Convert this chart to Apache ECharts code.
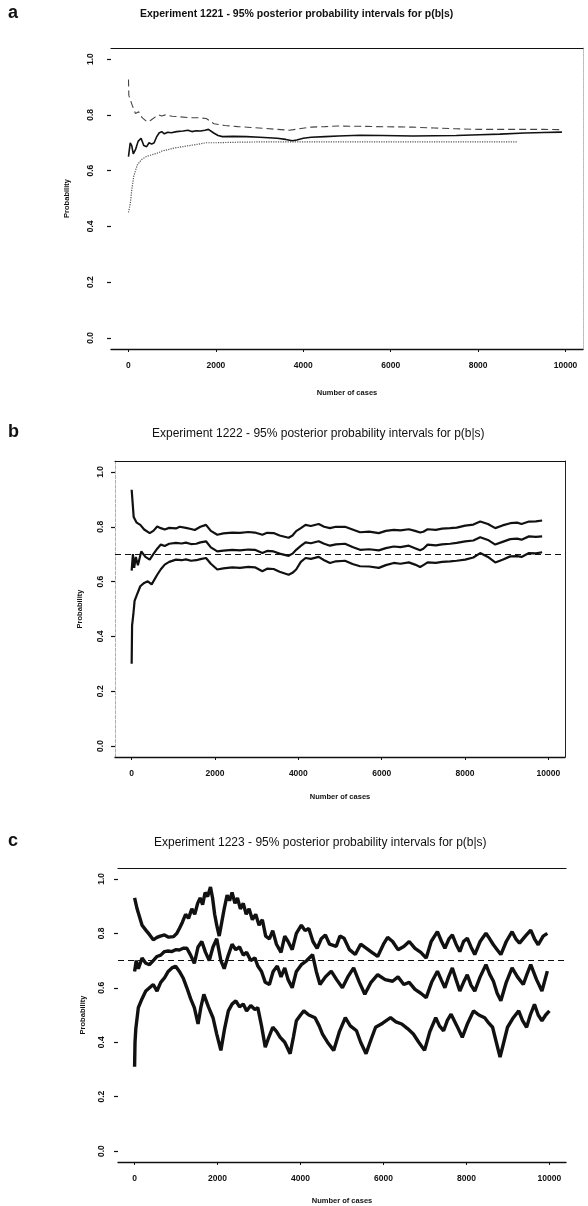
<!DOCTYPE html>
<html>
<head>
<meta charset="utf-8">
<script src="https://cdn.jsdelivr.net/npm/echarts@6/dist/echarts.min.js"></script>
<style>
  html, body { margin: 0; padding: 0; background: #fff; }
  #chart { width: 588px; height: 1206px; }
</style>
</head>
<body>
<div id="chart"></div>
<script>
// tick labels
const xTicks = [0, 2000, 4000, 6000, 8000, 10000];
const yTicks = [0, 0.2, 0.4, 0.6, 0.8, 1.0];
const refLevel = 0.7;

const panelLetters = ['a', 'b', 'c'];
const titles = [
  'Experiment 1221 - 95% posterior probability intervals for p(b|s)',
  'Experiment 1222 - 95% posterior probability intervals for p(b|s)',
  'Experiment 1223 - 95% posterior probability intervals for p(b|s)'
];

// panel a : [cases, probability]
const upperA = [[0,0.927],[8,0.87],[84,0.835],[160,0.805],[235,0.811],[312,0.79],[427,0.775],[502,0.78],[616,0.793],[692,0.8],[760,0.796],[845,0.8],[1000,0.795],[1187,0.793],[1400,0.79],[1600,0.79],[1780,0.787],[1957,0.768],[2200,0.762],[2500,0.758],[2800,0.755],[3070,0.752],[3400,0.748],[3680,0.745],[3900,0.75],[4180,0.756],[4500,0.758],[4800,0.76],[5300,0.759],[5660,0.758],[6100,0.757],[6495,0.756],[7000,0.753],[7500,0.75],[8000,0.748],[8500,0.748],[9000,0.748],[9500,0.748],[9918,0.747]];
const meanA = [[0,0.65],[40,0.7],[74,0.69],[110,0.66],[160,0.675],[220,0.705],[288,0.716],[350,0.69],[416,0.686],[470,0.7],[530,0.695],[587,0.7],[640,0.72],[700,0.735],[760,0.74],[820,0.732],[900,0.738],[980,0.736],[1100,0.74],[1250,0.742],[1360,0.745],[1450,0.74],[1550,0.743],[1650,0.742],[1750,0.745],[1830,0.748],[1950,0.735],[2050,0.726],[2150,0.722],[2400,0.723],[2700,0.722],[3000,0.72],[3200,0.718],[3400,0.716],[3600,0.712],[3750,0.707],[3850,0.71],[4000,0.716],[4180,0.72],[4500,0.722],[4800,0.724],[5300,0.727],[5800,0.726],[6500,0.724],[7000,0.725],[7500,0.726],[8036,0.729],[8500,0.731],[9064,0.735],[9500,0.737],[9918,0.738]];
const lowerA = [[0,0.45],[40,0.48],[74,0.53],[120,0.58],[200,0.62],[300,0.64],[400,0.65],[500,0.655],[600,0.66],[700,0.665],[760,0.67],[900,0.675],[1010,0.68],[1200,0.685],[1400,0.69],[1600,0.695],[1780,0.7],[2000,0.7],[2500,0.702],[3000,0.703],[4000,0.703],[5000,0.703],[6000,0.703],[7000,0.703],[8000,0.703],[8900,0.703]];

// panel b
const upperB = [[0,0.935],[48,0.836],[120,0.815],[207,0.807],[300,0.79],[433,0.777],[520,0.785],[613,0.801],[700,0.795],[793,0.79],[900,0.796],[1063,0.794],[1154,0.8],[1300,0.796],[1423,0.792],[1514,0.788],[1650,0.8],[1784,0.807],[1900,0.785],[2055,0.771],[2200,0.776],[2416,0.779],[2600,0.778],[2800,0.781],[2957,0.779],[3137,0.771],[3250,0.778],[3407,0.777],[3550,0.768],[3767,0.76],[3860,0.768],[3948,0.784],[4060,0.795],[4173,0.807],[4300,0.803],[4488,0.81],[4620,0.8],[4760,0.795],[4900,0.8],[5120,0.8],[5300,0.79],[5481,0.78],[5700,0.782],[5931,0.777],[6100,0.785],[6291,0.789],[6450,0.787],[6652,0.791],[6800,0.785],[6923,0.779],[7000,0.782],[7103,0.791],[7300,0.789],[7450,0.793],[7644,0.795],[7800,0.797],[8005,0.804],[8200,0.808],[8365,0.819],[8550,0.81],[8726,0.795],[8900,0.805],[9086,0.813],[9250,0.815],[9356,0.81],[9536,0.819],[9700,0.82],[9851,0.823]];
const meanB = [[0,0.64],[30,0.7],[60,0.65],[100,0.69],[150,0.66],[230,0.71],[330,0.69],[433,0.68],[520,0.7],[613,0.72],[700,0.735],[793,0.73],[900,0.738],[1063,0.741],[1200,0.739],[1300,0.742],[1423,0.737],[1550,0.738],[1650,0.743],[1784,0.747],[1900,0.725],[2055,0.71],[2200,0.713],[2416,0.716],[2600,0.714],[2800,0.717],[2957,0.716],[3137,0.704],[3250,0.712],[3407,0.71],[3550,0.702],[3767,0.694],[3860,0.702],[3948,0.716],[4060,0.73],[4173,0.743],[4300,0.74],[4488,0.747],[4620,0.738],[4760,0.731],[4900,0.736],[5120,0.738],[5300,0.726],[5481,0.716],[5700,0.718],[5931,0.714],[6100,0.722],[6291,0.728],[6450,0.726],[6652,0.731],[6800,0.722],[6923,0.714],[7000,0.72],[7103,0.735],[7300,0.732],[7450,0.736],[7644,0.738],[7800,0.741],[8005,0.747],[8200,0.75],[8365,0.762],[8550,0.752],[8726,0.735],[8900,0.745],[9086,0.755],[9250,0.757],[9356,0.753],[9536,0.765],[9700,0.763],[9851,0.765]];
const lowerB = [[0,0.3],[10,0.44],[40,0.48],[70,0.53],[120,0.55],[207,0.583],[300,0.595],[387,0.601],[480,0.59],[613,0.625],[700,0.645],[793,0.662],[900,0.672],[1063,0.68],[1200,0.678],[1300,0.681],[1423,0.676],[1550,0.678],[1650,0.682],[1784,0.686],[1900,0.665],[2055,0.644],[2200,0.648],[2416,0.652],[2600,0.65],[2800,0.654],[2957,0.652],[3137,0.638],[3250,0.647],[3407,0.646],[3550,0.636],[3767,0.625],[3860,0.632],[3948,0.644],[4060,0.672],[4173,0.686],[4300,0.683],[4488,0.69],[4620,0.678],[4760,0.668],[4900,0.674],[5120,0.676],[5300,0.664],[5481,0.656],[5700,0.655],[5931,0.65],[6100,0.66],[6291,0.668],[6450,0.665],[6652,0.67],[6800,0.662],[6923,0.653],[7000,0.66],[7103,0.67],[7300,0.668],[7450,0.672],[7644,0.674],[7800,0.676],[8005,0.68],[8200,0.688],[8365,0.704],[8550,0.69],[8726,0.67],[8900,0.68],[9086,0.692],[9250,0.693],[9356,0.69],[9536,0.704],[9700,0.703],[9851,0.707]];

// panel c
const upperC = [[0,0.93],[60,0.89],[120,0.86],[180,0.83],[280,0.81],[360,0.795],[450,0.776],[540,0.785],[620,0.79],[720,0.794],[820,0.786],[940,0.788],[1020,0.8],[1080,0.818],[1150,0.84],[1230,0.87],[1300,0.855],[1380,0.89],[1450,0.87],[1520,0.91],[1580,0.93],[1640,0.905],[1700,0.95],[1760,0.935],[1830,0.97],[1880,0.93],[1930,0.87],[1980,0.83],[2040,0.79],[2100,0.84],[2160,0.89],[2230,0.94],[2290,0.92],[2350,0.95],[2420,0.91],[2480,0.93],[2550,0.89],[2620,0.91],[2690,0.87],[2760,0.89],[2840,0.85],[2920,0.87],[3000,0.83],[3080,0.85],[3160,0.79],[3250,0.78],[3330,0.81],[3420,0.76],[3530,0.73],[3620,0.79],[3700,0.77],[3800,0.74],[3900,0.8],[4020,0.83],[4110,0.81],[4200,0.818],[4300,0.77],[4400,0.745],[4500,0.78],[4600,0.794],[4700,0.76],[4860,0.752],[4950,0.79],[5050,0.782],[5180,0.74],[5320,0.722],[5450,0.76],[5590,0.745],[5720,0.73],[5860,0.715],[6000,0.76],[6100,0.785],[6220,0.77],[6350,0.74],[6490,0.752],[6620,0.77],[6760,0.745],[6900,0.73],[7030,0.709],[7150,0.77],[7300,0.806],[7400,0.77],[7480,0.745],[7580,0.78],[7660,0.794],[7750,0.76],[7840,0.733],[7930,0.77],[8020,0.782],[8110,0.75],[8200,0.722],[8330,0.77],[8470,0.8],[8560,0.78],[8650,0.758],[8740,0.74],[8830,0.722],[8960,0.77],[9100,0.806],[9190,0.78],[9280,0.764],[9420,0.79],[9550,0.812],[9640,0.78],[9730,0.758],[9850,0.79],[9950,0.8]];
const meanC = [[0,0.66],[40,0.7],[90,0.67],[180,0.709],[270,0.69],[360,0.685],[450,0.7],[540,0.715],[630,0.72],[720,0.733],[810,0.735],[900,0.733],[990,0.74],[1080,0.739],[1170,0.745],[1260,0.745],[1350,0.72],[1440,0.69],[1530,0.75],[1620,0.77],[1710,0.73],[1800,0.7],[1890,0.75],[1980,0.78],[2080,0.7],[2160,0.67],[2260,0.72],[2350,0.76],[2440,0.74],[2530,0.75],[2620,0.72],[2700,0.73],[2800,0.7],[2900,0.71],[2970,0.68],[3060,0.66],[3150,0.62],[3250,0.612],[3340,0.66],[3440,0.68],[3530,0.64],[3620,0.673],[3700,0.63],[3800,0.6],[3900,0.66],[4020,0.685],[4150,0.7],[4290,0.722],[4380,0.66],[4470,0.612],[4600,0.64],[4740,0.661],[4870,0.63],[5010,0.6],[5140,0.64],[5280,0.673],[5420,0.62],[5550,0.576],[5700,0.62],[5860,0.648],[6040,0.63],[6220,0.624],[6350,0.64],[6490,0.612],[6620,0.62],[6760,0.594],[6900,0.58],[7030,0.564],[7160,0.62],[7300,0.661],[7390,0.63],[7480,0.6],[7570,0.64],[7660,0.673],[7750,0.63],[7840,0.588],[7930,0.62],[8020,0.648],[8110,0.61],[8200,0.588],[8330,0.64],[8470,0.685],[8560,0.65],[8650,0.624],[8740,0.58],[8830,0.552],[8960,0.62],[9100,0.673],[9230,0.64],[9370,0.612],[9460,0.65],[9550,0.685],[9690,0.63],[9820,0.588],[9950,0.661]];
const lowerC = [[0,0.31],[10,0.4],[30,0.45],[90,0.527],[180,0.56],[270,0.588],[360,0.6],[450,0.612],[540,0.588],[630,0.62],[720,0.636],[810,0.66],[900,0.673],[990,0.679],[1080,0.66],[1170,0.636],[1260,0.6],[1350,0.56],[1440,0.527],[1530,0.467],[1600,0.53],[1670,0.576],[1780,0.53],[1890,0.49],[1980,0.43],[2080,0.37],[2170,0.45],[2260,0.515],[2350,0.54],[2440,0.552],[2530,0.53],[2620,0.54],[2700,0.515],[2800,0.535],[2900,0.52],[2970,0.527],[3060,0.46],[3150,0.382],[3240,0.42],[3330,0.455],[3420,0.44],[3510,0.418],[3620,0.4],[3750,0.358],[3830,0.42],[3900,0.479],[4000,0.5],[4080,0.515],[4200,0.5],[4350,0.49],[4450,0.46],[4530,0.43],[4650,0.4],[4800,0.37],[4940,0.44],[5080,0.49],[5200,0.46],[5350,0.442],[5450,0.4],[5580,0.358],[5700,0.41],[5810,0.455],[5980,0.47],[6170,0.49],[6300,0.475],[6440,0.467],[6580,0.45],[6720,0.43],[6850,0.4],[6990,0.37],[7120,0.44],[7260,0.49],[7350,0.46],[7450,0.442],[7540,0.48],[7630,0.503],[7770,0.46],[7900,0.418],[8030,0.47],[8170,0.515],[8300,0.5],[8440,0.49],[8540,0.47],[8630,0.455],[8720,0.4],[8810,0.345],[8900,0.4],[8990,0.455],[9130,0.49],[9260,0.515],[9350,0.48],[9450,0.455],[9540,0.5],[9640,0.539],[9730,0.5],[9820,0.479],[9910,0.5],[10000,0.515]];

const chart = echarts.init(document.getElementById('chart'));

const font = 'Liberation Sans';
const ink = '#111';

// plot boxes, in px
const grids = [
  { left: 111, top: 48, width: 472, height: 301 },
  { left: 115, top: 461, width: 450, height: 296 },
  { left: 118, top: 868, width: 448, height: 298 }
];
const yNameGap = [40, 31, 31];
const yLabelMargin = [16, 10, 12];
const xNameGap = [40, 36, 35];
const titleTop = [9, 428, 837];
const titleLeft = [140, 152, 154];
const titleSize = [10.5, 12, 12];
const lineWidths = [1.6, 2.2, 3.4];

const xAxes = [];
const yAxes = [];
grids.forEach((g, i) => {
  xAxes.push({
    gridIndex: i, type: 'value', min: -400, max: 10400, position: 'bottom',
    axisLine: { show: true, onZero: false, lineStyle: { color: ink, width: 1.3 } },
    axisTick: { show: true, customValues: xTicks, length: 3, lineStyle: { color: ink } },
    axisLabel: {
      customValues: xTicks, margin: 12, color: ink, fontFamily: font,
      fontSize: 8.5, fontWeight: 'bold', formatter: v => String(v)
    },
    splitLine: { show: false },
    name: 'Number of cases', nameLocation: 'middle', nameGap: xNameGap[i],
    nameTextStyle: { fontFamily: font, fontSize: 7.5, fontWeight: 'bold', color: ink }
  });
  xAxes.push({
    gridIndex: i, type: 'value', min: -400, max: 10400, position: 'top',
    axisLine: { show: true, onZero: false, lineStyle: { color: ink, width: 1.2 } },
    axisTick: { show: false }, axisLabel: { show: false }, splitLine: { show: false }
  });
  yAxes.push({
    gridIndex: i, type: 'value', min: -0.04, max: 1.04, position: 'left',
    axisLine: { show: i === 1, onZero: false, lineStyle: { color: '#999', type: 'dashed', width: 0.8 } },
    axisTick: { show: true, customValues: yTicks, length: 4, lineStyle: { color: ink, width: 1.2 } },
    axisLabel: {
      customValues: yTicks, rotate: 90, margin: yLabelMargin[i], color: ink, fontFamily: font,
      fontSize: 8.5, fontWeight: 'bold', formatter: v => v.toFixed(1)
    },
    splitLine: { show: false },
    name: 'Probability', nameLocation: 'middle', nameGap: yNameGap[i], nameRotate: 90,
    nameTextStyle: { fontFamily: font, fontSize: 7.5, fontWeight: 'bold', color: ink }
  });
  yAxes.push({
    gridIndex: i, type: 'value', min: -0.04, max: 1.04, position: 'right',
    axisLine: {
      show: i !== 2, onZero: false,
      lineStyle: i === 0 ? { color: '#aaa', type: 'dotted', width: 0.8 } : { color: '#222', width: 1 }
    },
    axisTick: { show: false }, axisLabel: { show: false }, splitLine: { show: false }
  });
});

function line(i, data, style, extra) {
  return Object.assign({
    type: 'line', xAxisIndex: 2 * i, yAxisIndex: 2 * i, data: data,
    showSymbol: false, symbol: 'none', silent: true, animation: false,
    lineStyle: style
  }, extra || {});
}

const refMark = {
  markLine: {
    silent: true, symbol: 'none', label: { show: false },
    lineStyle: { color: ink, type: [6, 4], width: 1.2 },
    data: [{ yAxis: refLevel }]
  }
};

const series = [
  line(0, upperA, { color: '#444', width: 1.1, type: [7, 4] }),
  line(0, meanA, { color: ink, width: lineWidths[0] }),
  line(0, lowerA, { color: '#555', width: 1.2, type: 'dotted' }),
  line(1, upperB, { color: ink, width: lineWidths[1] }),
  line(1, meanB, { color: ink, width: lineWidths[1] }, refMark),
  line(1, lowerB, { color: ink, width: lineWidths[1] }),
  line(2, upperC, { color: ink, width: lineWidths[2] }),
  line(2, meanC, { color: ink, width: lineWidths[2] }, refMark),
  line(2, lowerC, { color: ink, width: lineWidths[2] })
];

const titleList = [];
titles.forEach((t, i) => {
  titleList.push({
    text: t, left: titleLeft[i], top: titleTop[i], padding: 0,
    textStyle: { fontFamily: font, fontSize: titleSize[i], fontWeight: i === 0 ? 'bold' : 'normal', color: ink }
  });
  titleList.push({
    text: panelLetters[i], left: 8, top: titleTop[i] - 5, padding: 0,
    textStyle: { fontFamily: font, fontSize: 18, fontWeight: 'bold', color: ink }
  });
});

chart.setOption({
  backgroundColor: '#fff',
  animation: false,
  title: titleList,
  grid: grids,
  xAxis: xAxes,
  yAxis: yAxes,
  series: series
});
</script>
</body>
</html>
